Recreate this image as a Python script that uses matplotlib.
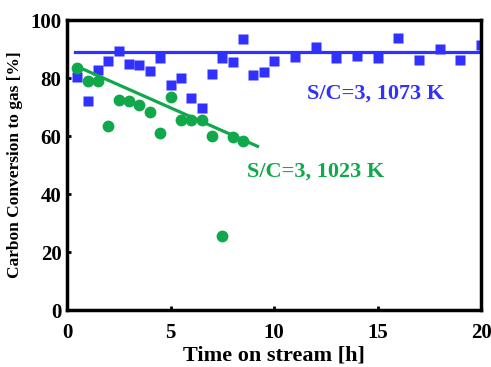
import numpy as np
import matplotlib.pyplot as plt

plt.rcParams['font.family'] = ['Liberation Serif', 'DejaVu Serif']

# S/C=3, 1073 K
t_1073 = [0.5, 1.0, 1.5, 2.0, 2.5, 3.0, 3.5, 4.0, 4.5, 5.0, 5.5, 6.0, 6.5, 7.0, 7.5,
          8.0, 8.5, 9.0, 9.5, 10.0, 11.0, 12.0, 13.0, 14.0, 15.0, 16.0, 17.0, 18.0,
          19.0, 20.0]
conv_1073 = [80.4, 72.0, 82.8, 86.0, 89.3, 85.0, 84.5, 82.5, 86.8, 77.6, 80.1, 73.2,
             69.8, 81.3, 87.0, 85.5, 93.5, 81.2, 82.3, 85.8, 87.4, 90.8, 86.8, 87.6,
             87.1, 94.0, 86.4, 89.9, 86.4, 91.4]
fit_1073_x = [0.4, 20.0]
fit_1073_y = [89.0, 89.0]

# S/C=3, 1023 K
t_1023 = [0.5, 1.0, 1.5, 2.0, 2.5, 3.0, 3.5, 4.0, 4.5, 5.0, 5.5, 6.0, 6.5, 7.0, 7.5,
          8.0, 8.5]
conv_1023 = [83.6, 79.0, 79.0, 63.4, 72.6, 72.2, 70.7, 68.4, 61.2, 73.6, 65.7, 65.5,
             65.7, 60.0, 25.5, 59.8, 58.4]
fit_1023_x = [0.5, 9.2]
fit_1023_y = [84.0, 56.5]

blue = '#3030ff'
green = '#10a84a'

fig = plt.figure(figsize=(4.91, 3.67), dpi=100)
ax = fig.add_axes([0.1365, 0.155, 0.8435, 0.79])

ax.plot(fit_1073_x, fit_1073_y, color=blue, lw=2.3)
ax.plot(t_1073, conv_1073, 's', color=blue, ms=7, mec='none')
ax.plot(t_1023, conv_1023, 'o', color=green, ms=8.5, mec='none')
ax.plot(fit_1023_x, fit_1023_y, color=green, lw=2.3)

ax.text(14.9, 74.8, 'S/C=3, 1073 K', color=blue, fontsize=16, fontweight='bold',
        ha='center', va='center')
ax.text(12.0, 47.9, 'S/C=3, 1023 K', color=green, fontsize=16, fontweight='bold',
        ha='center', va='center')

ax.set_xlim(0, 20)
ax.set_ylim(0, 100)
ax.set_xticks([0, 5, 10, 15, 20])
ax.set_yticks([0, 20, 40, 60, 80, 100])
ax.tick_params(direction='in', length=3, width=2, labelsize=15)
ax.tick_params(axis='x', pad=9)
ax.tick_params(axis='y', pad=4)
for lab in ax.get_xticklabels() + ax.get_yticklabels():
    lab.set_fontweight('bold')
for s in ax.spines.values():
    s.set_linewidth(2.5)

ax.set_xlabel('Time on stream [h]', fontsize=16, fontweight='bold', labelpad=2)
ax.set_ylabel('Carbon Conversion to gas [%]', fontsize=12.5, fontweight='bold', labelpad=5)

fig.savefig('out.png', dpi=100)
